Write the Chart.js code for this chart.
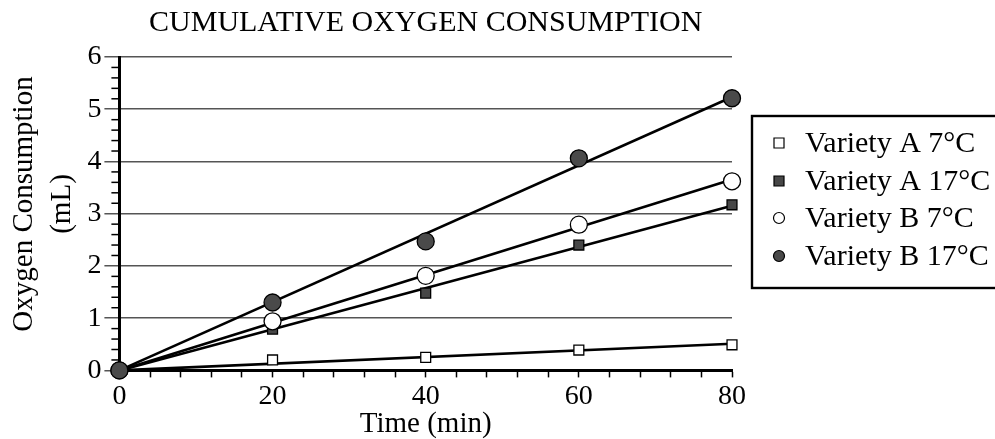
<!DOCTYPE html>
<html><head><meta charset="utf-8">
<script src="https://cdn.jsdelivr.net/npm/chart.js@4/dist/chart.umd.min.js"></script>
<style>html,body{margin:0;padding:0;background:#fff}#wrap{width:995px;height:439px;position:relative}</style>
</head><body><div id="wrap"><canvas id="c"></canvas></div>
<script>
// ---- data ----
const times = [0, 20, 40, 60, 80];
const seriesLabels = ['Variety A 7°C', 'Variety A 17°C', 'Variety B 7°C', 'Variety B 17°C'];
const varietyA7 = [0, 0.2, 0.25, 0.39, 0.49];
const varietyA17 = [0, 0.79, 1.48, 2.4, 3.17];
const varietyB7 = [0, 0.94, 1.81, 2.79, 3.62];
const varietyB17 = [0, 1.3, 2.47, 4.06, 5.21];
const xTickLabels = [0, 20, 40, 60, 80];
const yTickLabels = [0, 1, 2, 3, 4, 5, 6];
const titleText = 'CUMULATIVE OXYGEN CONSUMPTION';
const xTitle = 'Time (min)';
const yTitle = ['Oxygen Consumption', '(mL)'];

const allSeries = [varietyA7, varietyA17, varietyB7, varietyB17];
const styles = [
  {shape: 'rect', fill: '#ffffff', r: 7},
  {shape: 'rect', fill: '#474747', r: 7},
  {shape: 'circle', fill: '#ffffff', r: 8.5},
  {shape: 'circle', fill: '#4a4a4a', r: 8.5}
];

function pts(vals) { return times.map((t, i) => ({x: t, y: vals[i]})); }
// least-squares line through the origin, from the data
function fitLine(vals) {
  let sxy = 0, sxx = 0;
  times.forEach((t, i) => { sxy += t * vals[i]; sxx += t * t; });
  const k = sxy / sxx;
  const x0 = times[0], x1 = times[times.length - 1];
  return [{x: x0, y: k * x0}, {x: x1, y: k * x1}];
}

const FONT = 'Liberation Serif';
const datasets = [];
allSeries.forEach((v, i) => {
  datasets.push({
    label: 'fit ' + seriesLabels[i], isFit: true, data: fitLine(v), showLine: true,
    borderColor: '#000', borderWidth: 2.6, pointRadius: 0, fill: false, clip: false, order: 10
  });
});
allSeries.forEach((v, i) => {
  datasets.push({
    label: seriesLabels[i], data: pts(v), showLine: false,
    pointStyle: styles[i].shape, pointRadius: styles[i].r, pointHoverRadius: styles[i].r,
    backgroundColor: styles[i].fill, borderColor: '#000', borderWidth: 1.3, clip: false, order: 4 - i
  });
});

const deco = {
  id: 'deco',
  afterDraw(chart) {
    const ctx = chart.ctx, ys = chart.scales.y, ca = chart.chartArea;
    ctx.save();
    // minor y ticks
    ctx.strokeStyle = '#000'; ctx.lineWidth = 1.5;
    for (let j = 0; j <= 30; j++) {
      if (j % 5 === 0) continue;
      const p = ys.getPixelForValue(j / 5);
      ctx.beginPath(); ctx.moveTo(ca.left - 8, p); ctx.lineTo(ca.left, p); ctx.stroke();
    }
    // y-axis title (space reserved by the scale title)
    ctx.save();
    ctx.translate(0, 204);
    ctx.rotate(-Math.PI / 2);
    ctx.fillStyle = '#000';
    ctx.font = '29px "' + FONT + '"';
    ctx.textAlign = 'center'; ctx.textBaseline = 'middle';
    ctx.fillText(yTitle[0], 0, 24);
    ctx.fillText(yTitle[1], 0, 62);
    ctx.restore();
    // legend box
    const bx = 752, by = 116, bw = 250, bh = 172;
    ctx.lineWidth = 2.4; ctx.strokeStyle = '#000';
    ctx.strokeRect(bx, by, bw, bh);
    ctx.font = '30px "' + FONT + '"';
    ctx.textBaseline = 'middle'; ctx.textAlign = 'left'; ctx.fillStyle = '#000';
    const rowY = [143, 181, 218, 256];
    seriesLabels.forEach((lab, i) => {
      const s = styles[i], cx = 779, cy = rowY[i];
      ctx.fillStyle = s.fill; ctx.strokeStyle = '#000'; ctx.lineWidth = 1.2;
      ctx.beginPath();
      if (s.shape === 'rect') ctx.rect(cx - 5, cy - 5, 10, 10);
      else ctx.arc(cx, cy, 5.5, 0, Math.PI * 2);
      ctx.fill(); ctx.stroke();
      ctx.fillStyle = '#000';
      ctx.fillText(lab, 805, cy + 1);
    });
    ctx.restore();
  }
};

new Chart(document.getElementById('c'), {
  type: 'scatter',
  data: {datasets},
  options: {
    responsive: true, maintainAspectRatio: false, animation: false,
    layout: {padding: {left: 7, right: 263, top: 5, bottom: 0}},
    plugins: {
      legend: {display: false}, tooltip: {enabled: false},
      title: {display: true, text: titleText, fullSize: false, color: '#000',
        font: {family: FONT, size: 30, weight: 'normal', lineHeight: 1.2}, padding: {top: 0, bottom: 16}}
    },
    scales: {
      x: {
        type: 'linear', min: 0, max: 80,
        border: {display: true, color: '#000', width: 3},
        grid: {drawOnChartArea: false, drawTicks: true, tickLength: 7, tickColor: '#000', tickWidth: 1.5},
        ticks: {stepSize: 4, autoSkip: false, maxRotation: 0, color: '#000', padding: 2,
          font: {family: FONT, size: 28},
          callback: (v) => xTickLabels.includes(v) ? String(v) : ''},
        title: {display: true, text: xTitle, color: '#000', font: {family: FONT, size: 29, lineHeight: 1}, padding: {top: -5, bottom: 0}}
      },
      y: {
        type: 'linear', min: 0, max: 6,
        border: {display: true, color: '#000', width: 3},
        grid: {color: (c) => c.tick && c.tick.value === 0 ? 'rgba(0,0,0,0)' : '#555', lineWidth: 1.5,
          drawTicks: true, tickLength: 15, tickColor: '#555'},
        ticks: {stepSize: 1, color: '#000', padding: 3, font: {family: FONT, size: 28},
          callback: (v) => yTickLabels.includes(v) ? String(v) : ''},
        title: {display: true, text: yTitle, color: 'rgba(0,0,0,0)', font: {family: FONT, size: 29, lineHeight: 1.3}, padding: {top: 0, bottom: 2}}
      }
    }
  },
  plugins: [deco]
});
</script></body></html>
